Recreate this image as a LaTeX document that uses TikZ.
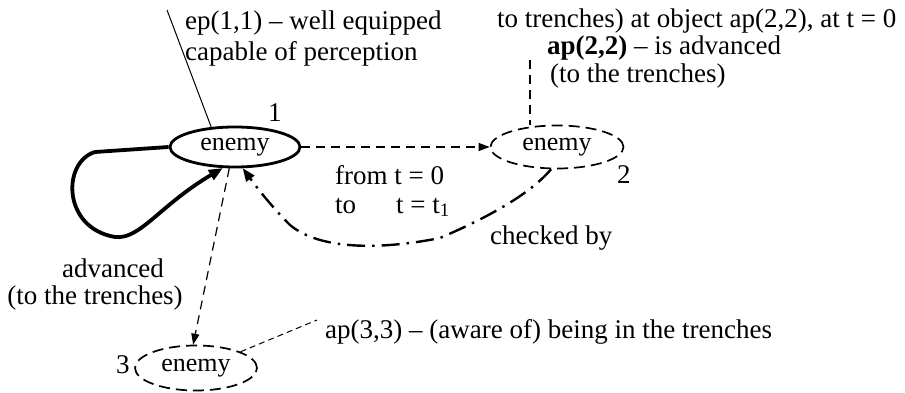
\documentclass[tikz,border=0pt]{standalone}
\usepackage{fontspec}
\setmainfont{Liberation Serif}
\usetikzlibrary{arrows.meta,shapes.geometric}
\begin{document}
\begin{tikzpicture}[x=1pt,y=-1pt,
  lbl/.style={font=\fontsize{27}{31}\selectfont, inner sep=0pt, anchor=base west},
  enode/.style={ellipse, draw, inner sep=0pt, font=\fontsize{26}{30}\selectfont},
  dashline/.style={dash pattern=on 11pt off 6pt, line width=1.7pt},
  thindash/.style={dash pattern=on 9pt off 6pt, line width=1.2pt},
  tip/.style={-{Triangle[length=11pt,width=8pt]}}
]
\useasboundingbox (0,0) rectangle (905,393);

% ellipses
\node[enode, line width=2.8pt, minimum width=130pt, minimum height=40pt] (e1) at (235,147) {enemy};
\node[enode, dashline, minimum width=133pt, minimum height=43pt] (e2) at (557,147) {enemy};
\node[enode, dashline, minimum width=122pt, minimum height=45pt] (e3) at (196,368) {enemy};

% numbers
\node[lbl] (n1) at (268,122) {1};
\node[lbl] (n2) at (617,183) {2};
\node[lbl] (n3) at (116,373) {3};

% texts
\node[lbl] (t1) at (185,30) {ep(1,1) -- well equipped};
\node[lbl] (t2) at (185,61) {capable of perception};
\node[lbl] (t3) at (497,28) {to trenches) at object ap(2,2), at t = 0};
\node[lbl] (t4) at (547,55) {\textbf{ap(2,2)} -- is advanced};
\node[lbl] (t5) at (550,83) {(to the trenches)};
\node[lbl] (t6) at (335,184) {from t = 0};
\node[lbl] (t7) at (335,213) {to};
\node[lbl] (t8) at (396,213) {t = t\textsubscript{1}};
\node[lbl] (t9) at (490,244) {checked by};
\node[lbl, anchor=base] (t10) at (113,277) {advanced};
\node[lbl, anchor=base] (t11) at (95,304) {(to the trenches)};
\node[lbl] (t12) at (325,338) {ap(3,3) -- (aware of) being in the trenches};

% free ends
\coordinate (c1) at (167,10);
\coordinate (c2) at (530,60);
\coordinate (c3) at (317,320);

% connectors
\draw[line width=1pt] (c1) -- (e1.140);
\draw[thindash] (c2) -- (c2 |- e2.north);
\draw[dash pattern=on 6pt off 4pt, line width=1pt] (e3.20) -- (c3);
\draw[thindash, tip] (e1.east) -- (e2.west);
\draw[thindash, tip] (e1.255) -- (e3.97);
\draw[line width=2.4pt, dash pattern=on 18pt off 7pt on 2.5pt off 7pt, -{Triangle[length=13pt,width=10pt]}]
  (e2.255) .. controls (525,200) and (470,225) .. (440,238)
  .. controls (380,250) and (320,250) .. (290,225)
  .. controls (270,205) and (255,185) .. (e1.290);
\draw[line width=3.8pt, line join=round, -{Triangle[length=14pt,width=11pt]}]
  (e1.west) -- (95,152) .. controls (62,162) and (62,228) .. (115,237)
  .. controls (140,240) and (160,205) .. (e1.240);
\end{tikzpicture}
\end{document}
